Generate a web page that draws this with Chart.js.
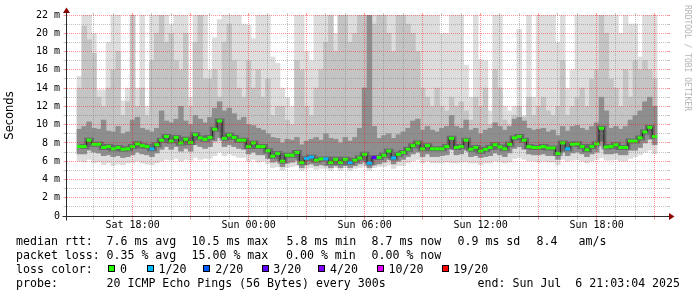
<!DOCTYPE html>
<html><head><meta charset="utf-8">
<script src="https://cdn.jsdelivr.net/npm/chart.js@4/dist/chart.umd.min.js"></script>
<style>
html,body{margin:0;padding:0;background:#fff;}
#wrap{position:relative;width:697px;height:297px;overflow:hidden;background:#fff;}
canvas{position:absolute;left:0;top:0;}
.t{position:absolute;font-family:"DejaVu Sans Mono",monospace;font-size:11.6px;line-height:14px;color:#000;white-space:pre;}
.sq{position:absolute;width:5px;height:5px;border:1px solid #000;top:265px;}
#wm{position:absolute;font-family:"DejaVu Sans Mono",monospace;font-size:8px;line-height:9px;color:#b4b4b4;white-space:pre;transform-origin:0 0;transform:rotate(90deg);left:692px;top:5px;}
</style></head><body>
<div id="wrap">
<canvas id="c" width="697" height="297"></canvas>
<div id="wm">RRDTOOL / TOBI OETIKER</div>
<div class="t" style="left:16px;top:234px">median rtt:</div>
<div class="t" style="left:106.5px;top:234px">7.6 ms avg</div>
<div class="t" style="left:191.5px;top:234px">10.5 ms max</div>
<div class="t" style="left:286.5px;top:234px">5.8 ms min</div>
<div class="t" style="left:371.5px;top:234px">8.7 ms now</div>
<div class="t" style="left:457.5px;top:234px">0.9 ms sd</div>
<div class="t" style="left:536.5px;top:234px">8.4</div>
<div class="t" style="left:578.5px;top:234px">am/s</div>
<div class="t" style="left:16px;top:248px">packet loss:</div>
<div class="t" style="left:106.5px;top:248px">0.35 % avg</div>
<div class="t" style="left:191.5px;top:248px">15.00 % max</div>
<div class="t" style="left:286px;top:248px">0.00 % min</div>
<div class="t" style="left:371.5px;top:248px">0.00 % now</div>
<div class="t" style="left:16px;top:262px">loss color:</div>
<div class="sq" style="left:108px;background:#26ff00"></div><div class="t" style="left:120px;top:262px">0</div>
<div class="sq" style="left:147px;background:#00b8ff"></div><div class="t" style="left:158.5px;top:262px">1/20</div>
<div class="sq" style="left:203px;background:#0059ff"></div><div class="t" style="left:215.3px;top:262px">2/20</div>
<div class="sq" style="left:262px;background:#5e00ff"></div><div class="t" style="left:273.3px;top:262px">3/20</div>
<div class="sq" style="left:318px;background:#7e00ff"></div><div class="t" style="left:330px;top:262px">4/20</div>
<div class="sq" style="left:377px;background:#dd00ff"></div><div class="t" style="left:388.5px;top:262px">10/20</div>
<div class="sq" style="left:442px;background:#ff0000"></div><div class="t" style="left:453.3px;top:262px">19/20</div>
<div class="t" style="left:16px;top:276px">probe:</div>
<div class="t" style="left:106.5px;top:276px">20 ICMP Echo Pings (56 Bytes) every 300s</div>
<div class="t" style="left:477.6px;top:276px">end: Sun Jul  6 21:03:04 2025</div>
</div>
<script>
// ---- data (15-minute samples, Sat 15:15 .. Sun 21:00), values in ms ----
const startHour = 15.25;   // Sat 15:15 (hours since Sat 00:00)
const stepHours = 0.25;

const medianRtt = [
 7.6,7.6,8.3,7.85,7.85,7.5,7.6,7.35,7.5,7.3,
 7.35,7.6,7.9,7.7,7.6,7.35,7.8,8.3,8.7,8.2,
 8.6,8.0,8.4,8.05,8.9,8.55,8.4,8.6,9.5,10.4,
 8.5,8.85,8.6,8.3,8.3,7.6,8.0,7.6,7.6,7.15,
 6.55,6.85,6.0,6.65,6.65,6.95,5.85,6.3,6.45,6.1,
 6.25,6.25,5.85,6.2,5.85,6.2,5.85,6.1,6.35,6.75,
 5.8,6.4,6.4,6.65,7.1,6.35,6.75,6.95,7.3,7.7,
 8.0,7.35,7.7,7.35,7.35,7.35,7.6,8.5,7.5,7.6,
 8.3,7.3,7.5,7.1,7.3,7.5,7.8,7.55,7.35,7.85,
 8.55,8.7,8.3,7.6,7.5,7.5,7.6,7.45,7.45,6.85,
 8.0,7.35,7.85,7.9,7.6,7.25,7.6,7.9,9.6,7.55,
 7.6,7.8,7.5,7.5,8.2,8.2,8.55,9.2,9.7,8.7];

const lossCount = [
 0,0,0,0,0,0,0,0,0,0,
 0,0,0,0,0,1,0,0,0,0,
 0,0,0,0,0,0,0,0,0,0,
 0,0,0,0,0,0,0,0,0,0,
 0,0,0,0,0,0,0,1,1,0,
 0,1,0,0,0,0,1,0,0,0,
 1,3,0,0,0,1,0,0,0,0,
 0,0,0,0,0,0,0,0,0,0,
 0,0,0,0,0,0,0,0,0,0,
 0,0,0,0,0,0,0,0,0,0,
 0,1,0,0,0,0,0,0,0,0,
 0,0,0,0,0,0,0,0,0,0];

// smoke: slowest ping, upper quantiles, lower quantile, fastest ping
const pingMax = [
 15.3,22,22,20,13.8,13.8,19,22,22,12.6,
 14,22,14,22,12,22,22,22,22,21,
 22,22,22,13,22,22,22,16,19.5,21.5,
 22,22,22,22,21,20.9,19.4,22,22,22,
 17.4,16.7,14,13,12,22,22,18,17,22,
 22,22,22,20,22,22,22,22,22,22,
 22,22,22,22,22,22,22,22,22,22,
 22,22,22,22,22,20,20,22,22,22,
 16.5,13,22,17.1,17,11.5,22,22,12,11.5,
 12,20.4,11,22,13,22,22,22,22,19,
 22,14,16,22,22,22,22,22,22,22,
 22,22,20,22,21,21,17.4,22,22,22];

const pingHigh = [
 14,20.8,19.3,17.8,13,12,14,16,18,11,
 12.5,22,12,14,11,17,20,22,19,20,
 17,16,20,12,19,22,15,15,16,13,
 19,21,17,14,13,17,14,16,13,15,
 11,12,12,10.5,10,17,16,12,11,14,
 16,19,22,18,22,22,19,20,22,22,
 22,21,22,22,20,18,22,22,21,20,
 18,14,13,12,14,12,11.5,13,12,12.5,
 11.5,10.5,13,12,14,10,16,14,10.5,10,
 11,12,10.8,13,11,12,13,11.5,11,12,
 17,11,12,13,14,12,15,16,22,20,
 15,14,12,16,13,17,16,17,16,15];

const pingUpper = [
 9.5,9.8,10.3,9.6,9.5,10.5,9.3,9.2,9.8,9.0,
 9.2,10.5,10.8,9.6,9.4,9.2,9.6,11.5,10.4,10.2,
 10.6,12,10.4,10.0,11.0,10.6,10.2,10.8,11.8,12.5,
 11.5,11.8,11.2,10.5,10.8,10.0,9.9,9.6,9.4,9.0,
 8.6,8.5,8.0,8.4,8.3,8.6,7.8,8.2,8.4,8.6,
 8.3,9.0,8.5,8.4,8.0,8.6,8.2,8.6,9.6,14,
 22,9.8,8.5,8.8,9.0,8.5,8.9,9.2,9.6,10.4,
 10.6,9.4,9.8,9.4,9.2,9.6,9.8,11.0,9.8,9.6,
 10.5,9.4,9.6,9.0,9.4,9.6,10.2,9.8,9.4,9.8,
 10.6,10.8,10.4,9.6,9.4,9.5,9.6,9.2,9.4,8.8,
 9.8,9.3,9.8,9.9,9.6,9.4,9.8,10.2,13,11.5,
 9.6,9.8,9.5,9.8,10.5,11.0,11.5,12.5,13,12];

const pingLower = [
 6.8,6.8,7.2,7.0,6.9,6.6,6.7,6.5,6.6,6.4,
 6.5,6.7,7.0,6.8,6.7,6.5,6.9,7.3,7.6,7.3,
 7.6,7.1,7.4,7.1,7.8,7.6,7.4,7.6,8.2,8.6,
 7.6,7.8,7.6,7.4,7.3,6.8,7.0,6.7,6.7,6.3,
 5.9,6.0,5.4,5.8,5.9,6.1,5.3,5.6,5.7,5.5,
 5.6,5.5,5.3,5.5,5.3,5.5,5.3,5.5,5.7,5.9,
 5.3,5.6,5.7,5.9,6.2,5.7,6.0,6.2,6.5,6.8,
 7.0,6.5,6.8,6.5,6.5,6.6,6.7,7.3,6.7,6.8,
 7.2,6.5,6.6,6.4,6.5,6.6,6.9,6.7,6.5,6.9,
 7.4,7.6,7.3,6.8,6.7,6.7,6.8,6.6,6.6,6.2,
 7.0,6.6,6.9,7.0,6.8,6.5,6.8,7.0,8.2,6.8,
 6.8,6.9,6.7,6.7,7.2,7.2,7.5,8.0,8.4,7.8];

const pingMin = [
 6.0,5.9,6.2,5.8,5.9,5.6,5.8,5.5,5.7,5.6,
 5.8,5.9,6.0,5.8,5.7,5.6,5.8,6.0,6.2,6.1,
 6.3,6.0,6.2,6.1,6.4,6.2,6.3,6.3,6.6,7.0,
 6.6,6.8,6.6,6.4,6.4,6.0,6.2,5.9,6.0,5.7,
 5.3,5.4,5.0,5.3,5.4,5.5,5.0,5.2,5.3,5.1,
 5.2,5.2,5.0,5.3,5.0,5.3,5.0,5.2,5.3,5.4,
 5.0,5.3,5.4,5.4,5.6,5.2,5.5,5.5,5.8,6.0,
 6.2,5.8,6.0,5.8,5.8,5.8,5.9,5.8,5.8,5.9,
 5.9,5.8,5.8,5.6,5.8,5.8,6.0,5.9,5.8,5.9,
 6.3,6.4,6.2,6.0,6.0,5.9,6.0,5.9,5.9,5.6,
 6.2,6.0,6.1,6.2,6.0,5.8,6.0,6.2,6.4,6.1,
 6.1,6.2,6.0,6.0,6.3,6.5,6.7,7.0,7.2,6.8];

const labelHours = [18, 24, 30, 36, 42];
const labelTexts = ['Sat 18:00', 'Sun 00:00', 'Sun 06:00', 'Sun 12:00', 'Sun 18:00'];
const yLabelValues = [0, 2, 4, 6, 8, 10, 12, 14, 16, 18, 20, 22];
const yLabelTexts = ['0', '2 m', '4 m', '6 m', '8 m', '10 m', '12 m', '14 m', '16 m', '18 m', '20 m', '22 m'];
const lossLevels = [0, 1, 2, 3, 4, 10, 19];
const lossColors = ['#26ff00', '#00b8ff', '#0059ff', '#5e00ff', '#7e00ff', '#dd00ff', '#ff0000'];

// ---- build chart ----
const sampleHours = medianRtt.map((_, i) => startHour + stepHours * i);
const pair = (lo, hi) => sampleHours.map((h, i) => ({x: h, y: [lo[i], hi[i]]}));
const pts = arr => sampleHours.map((h, i) => ({x: h, y: arr[i]}));
const colorForLoss = n => lossColors[Math.max(0, lossLevels.findIndex((l, k) => n <= l || k === lossLevels.length - 1))];

const hourGrid = [];
for (let h = 16; h <= 45; h++) hourGrid.push(h);
const msGrid = [];
for (let v = 0; v <= 22; v++) msGrid.push(v);

const MAJOR = 'rgba(255,0,0,0.42)';
const MINOR = 'rgba(120,120,120,0.45)';

const rrdGrid = {
  id: 'rrdGrid',
  afterDatasetsDraw(chart) {
    const {ctx, chartArea: a, scales: {x, y}} = chart;
    ctx.save();
    ctx.lineWidth = 1;
    const yb = Math.floor(y.getPixelForValue(0)) + 0.5;
    const xl = Math.floor(a.left) - 0.5;
    msGrid.forEach(v => {
      if (v === 0) return;
      const py = Math.floor(y.getPixelForValue(v)) + 0.5;
      ctx.strokeStyle = v % 2 === 0 ? MAJOR : MINOR;
      ctx.setLineDash([1, 1]);
      ctx.beginPath(); ctx.moveTo(a.left, py); ctx.lineTo(a.right, py); ctx.stroke();
      ctx.setLineDash([]);
      ctx.beginPath(); ctx.moveTo(xl - 3, py); ctx.lineTo(xl, py); ctx.stroke();
      ctx.beginPath(); ctx.moveTo(a.right, py); ctx.lineTo(a.right + 2, py); ctx.stroke();
    });
    hourGrid.forEach(h => {
      const px = Math.floor(x.getPixelForValue(h)) + 0.5;
      ctx.strokeStyle = h % 3 === 0 ? MAJOR : MINOR;
      ctx.setLineDash([1, 1]);
      ctx.beginPath(); ctx.moveTo(px, a.top); ctx.lineTo(px, yb); ctx.stroke();
      ctx.setLineDash([]);
      ctx.beginPath(); ctx.moveTo(px, yb); ctx.lineTo(px, yb + 3); ctx.stroke();
      ctx.beginPath(); ctx.moveTo(px, a.top - 2); ctx.lineTo(px, a.top); ctx.stroke();
    });
    ctx.strokeStyle = '#2a2a2a';
    ctx.beginPath(); ctx.moveTo(xl - 4, yb); ctx.lineTo(a.right + 2, yb); ctx.stroke();
    ctx.beginPath(); ctx.moveTo(xl, yb + 4); ctx.lineTo(xl, a.top - 3); ctx.stroke();
    ctx.fillStyle = '#8b0000';
    ctx.beginPath(); ctx.moveTo(a.right + 1, yb - 3.5); ctx.lineTo(a.right + 6.5, yb); ctx.lineTo(a.right + 1, yb + 3.5); ctx.closePath(); ctx.fill();
    ctx.beginPath(); ctx.moveTo(xl - 3.5, a.top - 2); ctx.lineTo(xl, a.top - 7.5); ctx.lineTo(xl + 3.5, a.top - 2); ctx.closePath(); ctx.fill();
    ctx.restore();
  }
};

const barBase = {type: 'bar', grouped: false, borderWidth: 0, barPercentage: 1, categoryPercentage: 1};

new Chart(document.getElementById('c'), {
  type: 'bar',
  data: {
    datasets: [
      {type: 'line', label: 'median', data: pts(medianRtt), showLine: false, order: 0,
       pointStyle: 'line', pointRadius: 2.5, pointBorderWidth: 3,
       pointBorderColor: lossCount.map(colorForLoss), pointBackgroundColor: lossCount.map(colorForLoss)},
      {type: 'line', label: 'median step', data: pts(medianRtt), stepped: 'middle', order: 1,
       borderColor: 'rgba(20,20,20,0.85)', borderWidth: 1, pointRadius: 0},
      {type: 'line', label: 'core', data: pts(medianRtt), stepped: 'middle', order: 2,
       borderColor: 'rgba(60,60,60,0.45)', borderWidth: 5, pointRadius: 0},
      Object.assign({label: 'inner', data: pair(pingLower, pingUpper), backgroundColor: '#8e8e8e', order: 3}, barBase),
      Object.assign({label: 'mid', data: pair(pingLower, pingHigh), backgroundColor: '#c4c4c4', order: 4}, barBase),
      Object.assign({label: 'outer', data: pair(pingMin, pingMax), backgroundColor: '#dddddd', order: 5}, barBase)
    ]
  },
  options: {
    responsive: false,
    animation: false,
    events: [],
    layout: {padding: {left: 0, right: 29, top: 15, bottom: 61}},
    plugins: {legend: {display: false}, tooltip: {enabled: false}},
    scales: {
      x: {
        type: 'linear', min: 15.125, max: 45.175,
        afterBuildTicks: s => { s.ticks = hourGrid.map(v => ({value: v})); },
        afterFit: s => { s.height = 20; },
        grid: {display: false, drawTicks: false},
        border: {display: false},
        ticks: {
          autoSkip: false, maxRotation: 0, minRotation: 0, padding: 3, color: '#000',
          font: {family: 'DejaVu Sans Mono', size: 10},
          callback: v => { const k = labelHours.indexOf(v); return k >= 0 ? labelTexts[k] : ''; }
        }
      },
      y: {
        type: 'linear', min: 0, max: 22,
        afterBuildTicks: s => { s.ticks = yLabelValues.map(v => ({value: v})); },
        afterFit: s => { s.width = 67; },
        grid: {display: false, drawTicks: false},
        border: {display: false},
        title: {display: true, text: 'Seconds', color: '#000', padding: {top: 3, bottom: 0},
                font: {family: 'DejaVu Sans', size: 11.5}},
        ticks: {
          padding: 7, color: '#000', font: {family: 'DejaVu Sans Mono', size: 10},
          callback: v => { const k = yLabelValues.indexOf(v); return k >= 0 ? yLabelTexts[k] : ''; }
        }
      }
    }
  },
  plugins: [rrdGrid]
});
</script>
</body></html>
